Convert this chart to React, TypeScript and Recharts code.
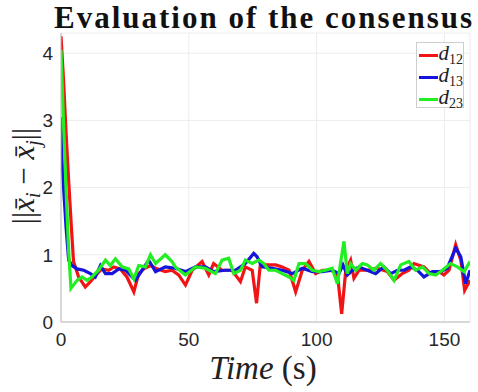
import React from 'react';
import { LineChart, Line, XAxis, YAxis, CartesianGrid } from 'recharts';

// d12 (red)
const T_D12 = [0, 1, 2, 3, 4, 4.9, 6.9, 9.5, 11.5, 13.4, 16, 18.7, 20.6, 23.2, 25.8, 28.5, 30.4, 32.4, 35, 37, 40.8, 43.4, 46, 48.7, 51.3, 55.2, 57.8, 59.7, 63, 66.9, 70.2, 72.1, 74.8, 76.5, 78, 80, 84, 86.5, 89.2, 91.8, 94.4, 97, 99.6, 102.2, 105.5, 108.1, 109.8, 111.4, 113.3, 114.6, 116.6, 119.8, 123.7, 127.6, 130.3, 133.5, 136.1, 138.1, 142, 144.6, 147.9, 149.8, 151.8, 154.4, 156.4, 157.9, 160];
const D12 = [4.25, 3.6, 2.8, 2.1, 1.45, 0.9, 0.67, 0.52, 0.6, 0.69, 0.79, 0.77, 0.82, 0.79, 0.67, 0.45, 0.72, 0.79, 0.84, 0.8, 0.75, 0.77, 0.7, 0.55, 0.77, 0.9, 0.7, 0.87, 0.77, 0.77, 0.6, 0.82, 0.77, 0.28, 0.87, 0.85, 0.85, 0.82, 0.77, 0.45, 0.77, 0.9, 0.72, 0.77, 0.77, 0.72, 0.12, 0.77, 0.92, 0.65, 0.77, 0.77, 0.8, 0.75, 0.62, 0.72, 0.77, 0.87, 0.82, 0.72, 0.75, 0.7, 0.77, 1.15, 0.92, 0.47, 0.62];

// d13 (blue)
const T_D13 = [0, 0.3, 1, 2, 3, 4.3, 6.3, 8.9, 11.5, 13.4, 15.4, 17.4, 20, 22.6, 25.2, 29.1, 31.7, 34.3, 37, 40.8, 44.7, 48.7, 52.6, 56.5, 59.7, 64.3, 68.2, 72.1, 75.4, 76.7, 78.7, 82.6, 86.5, 90.5, 94.4, 98.3, 102.2, 106.1, 108.7, 110.3, 112, 114, 116.6, 119.8, 123.1, 126.3, 129, 131.6, 134.2, 136.8, 139.4, 142, 145.3, 148.5, 151.1, 154.4, 156.4, 158.3, 160];
const D13 = [3.05, 2.5, 2.0, 1.4, 0.92, 0.84, 0.79, 0.77, 0.72, 0.67, 0.84, 0.72, 0.72, 0.79, 0.77, 0.62, 0.77, 0.92, 0.75, 0.82, 0.8, 0.75, 0.82, 0.82, 0.75, 0.77, 0.77, 0.87, 1.02, 0.97, 0.82, 0.8, 0.77, 0.72, 0.8, 0.75, 0.75, 0.77, 0.72, 0.85, 0.7, 0.77, 0.82, 0.77, 0.72, 0.82, 0.72, 0.77, 0.77, 0.82, 0.77, 0.67, 0.75, 0.75, 0.8, 1.1, 0.97, 0.57, 0.77];

// d23 (green)
const T_D23 = [0, 1, 2, 3, 3.9, 6.3, 8.2, 10.2, 12.1, 14.7, 17.4, 19.3, 21.3, 23.9, 26.5, 28.5, 30.4, 33, 35, 37, 40.8, 43.4, 44.7, 48.7, 52.6, 56.5, 60.4, 63, 65.6, 67.6, 70.2, 72.1, 74.8, 77.4, 79.3, 81.3, 84, 86.5, 89.2, 91.1, 93.1, 95.7, 98.3, 100.9, 103.5, 106.1, 108.1, 110.7, 112, 113.3, 115.3, 117.9, 119.8, 122.4, 125, 127.6, 130.3, 132.9, 136.1, 138.7, 141.4, 144, 146.6, 149.2, 152.4, 155.1, 157.7, 160];
const D23 = [4.05, 2.95, 1.95, 1.05, 0.5, 0.62, 0.67, 0.62, 0.67, 0.77, 0.92, 0.84, 0.94, 0.82, 0.79, 0.64, 0.84, 0.82, 1.0, 0.87, 1.0, 0.9, 0.82, 0.7, 0.82, 0.8, 0.72, 0.92, 0.95, 0.72, 0.77, 0.92, 0.87, 0.92, 0.87, 0.77, 0.77, 0.72, 0.67, 0.62, 0.87, 0.87, 0.77, 0.75, 0.77, 0.8, 0.57, 1.2, 0.72, 0.87, 0.77, 0.87, 0.85, 0.77, 0.87, 0.77, 0.62, 0.85, 0.9, 0.77, 0.82, 0.72, 0.7, 0.77, 0.87, 0.82, 0.75, 0.9];

const X_TICKS = [0, 50, 100, 150];
const Y_TICKS = [0, 1, 2, 3, 4];

const SERIES = [
  { key: 'd12', sub: '12', color: '#f01414', t: T_D12, v: D12 },
  { key: 'd13', sub: '13', color: '#1414dc', t: T_D13, v: D13 },
  { key: 'd23', sub: '23', color: '#22ee22', t: T_D23, v: D23 },
];

const SERIF = '"Liberation Serif", "Times New Roman", serif';
const SANS = '"Liberation Sans", Arial, sans-serif';

const LegendBox = () => (
  <div
    style={{
      position: 'absolute', left: 416, top: 42, width: 48, height: 66, boxSizing: 'border-box',
      background: '#fff', border: '1px solid #cfcfcf', padding: '1px 0 0 2px',
    }}
  >
    {SERIES.map((s) => (
      <div key={s.key} style={{ display: 'flex', alignItems: 'center', height: 22 }}>
        <div style={{ width: 19, height: 3, background: s.color, marginRight: 1 }} />
        <span style={{ fontFamily: SERIF, fontStyle: 'italic', fontSize: 21, color: '#222', lineHeight: 1 }}>
          d<sub style={{ fontStyle: 'normal', fontSize: 14, verticalAlign: -4 }}>{s.sub}</sub>
        </span>
      </div>
    ))}
  </div>
);

const App: React.FC = () => {
  return (
    <div style={{ position: 'absolute', left: 0, top: 0, width: 478, height: 392, background: '#fff' }}>
      <LineChart width={478} height={392} margin={{ top: 33, right: 8, bottom: 0, left: 0 }}>
        <CartesianGrid stroke="#ececec" />
        <XAxis
          type="number"
          dataKey="t"
          domain={[0, 160]}
          ticks={X_TICKS}
          allowDataOverflow
          height={70}
          tickLine={false}
          tickSize={9}
          axisLine={{ stroke: '#bcbcbc' }}
          tick={{ fill: '#262626', fontSize: 19, fontFamily: SANS }}
        />
        <YAxis
          type="number"
          domain={[0, 4.3]}
          ticks={Y_TICKS}
          allowDataOverflow
          width={61}
          tickLine={false}
          tickSize={6}
          axisLine={{ stroke: '#bcbcbc' }}
          tick={{ fill: '#262626', fontSize: 19, fontFamily: SANS }}
        />
        {SERIES.map((s) => (
          <Line
            key={s.key}
            data={s.t.map((t, i) => ({ t, v: s.v[i] }))}
            dataKey="v"
            name={s.key}
            type="linear"
            stroke={s.color}
            strokeWidth={3.2}
            dot={false}
            isAnimationActive={false}
          />
        ))}
      </LineChart>
      <LegendBox />
      <svg width={478} height={392} style={{ position: 'absolute', left: 0, top: 0, pointerEvents: 'none' }}>
        <text x={264} y={28} textAnchor="middle" fontFamily={SERIF} fontWeight="bold" fontSize={31} letterSpacing={2} fill="#111">
          Evaluation of the consensus
        </text>
        <text
          transform="translate(34,176) rotate(-90)"
          textAnchor="middle"
          fontFamily={SERIF}
          fontSize={31}
          fill="#222"
        >
          ||<tspan fontStyle="italic">x̄</tspan>
          <tspan fontStyle="italic" fontSize={20} dy={6}>i</tspan>
          <tspan dy={-6}> − </tspan>
          <tspan fontStyle="italic">x̄</tspan>
          <tspan fontStyle="italic" fontSize={20} dy={6}>j</tspan>
          <tspan dy={-6}>||</tspan>
        </text>
        <text x={263} y={379} textAnchor="middle" fontFamily={SERIF} fontSize={33} fill="#222">
          <tspan fontStyle="italic">Time</tspan> (s)
        </text>
      </svg>
    </div>
  );
};

export default App;
